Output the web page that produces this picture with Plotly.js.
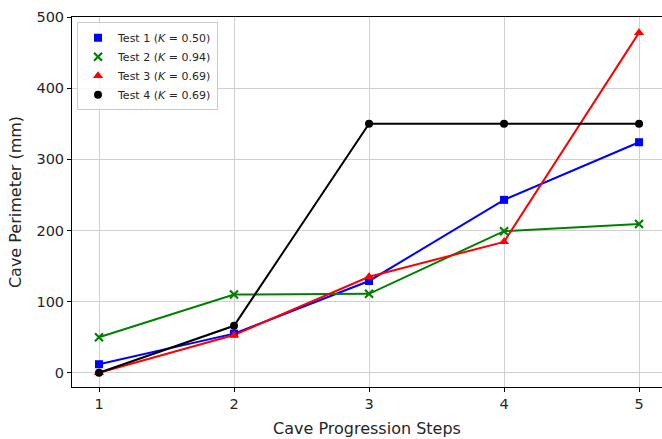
<!DOCTYPE html>
<html>
<head>
<meta charset="utf-8">
<script src="https://cdn.plot.ly/plotly-3.0.1.min.js"></script>
<style>html,body{margin:0;padding:0;background:#fff;}#chart{width:662px;height:439px;}</style>
</head>
<body>
<div id="chart"></div>
<script>
const steps = [1, 2, 3, 4, 5];
const test1 = [12, 55, 129, 243, 324];
const test2 = [50, 110, 111, 199, 209];
const test3 = [0, 53, 135, 184, 478];
const test4 = [0, 66, 350, 350, 350];
const labels = [
  'Test 1 (<i>K</i> = 0.50)',
  'Test 2 (<i>K</i> = 0.94)',
  'Test 3 (<i>K</i> = 0.69)',
  'Test 4 (<i>K</i> = 0.69)'
];
const yTicks = [0, 100, 200, 300, 400, 500];

const series = [test1, test2, test3, test4];
const colors = ['#0000ff', '#008000', '#ff0000', '#000000'];
const symbols = ['square', 'x-thin-open', 'triangle-up', 'circle'];
const sizes = [8, 8, 9, 8];

const traces = [];
series.forEach((ys, i) => {
  traces.push({
    x: steps, y: ys, type: 'scatter', mode: 'lines',
    line: {color: colors[i], width: 2}, showlegend: false, hoverinfo: 'skip'
  });
});
series.forEach((ys, i) => {
  const m = {symbol: symbols[i], size: sizes[i], color: colors[i]};
  if (symbols[i] === 'x-thin-open') m.line = {color: colors[i], width: 2.2};
  else m.line = {width: 0};
  traces.push({
    x: steps, y: ys, type: 'scatter', mode: 'markers',
    marker: m, name: labels[i]
  });
});

const layout = {
  width: 662, height: 439,
  margin: {l: 72, r: 0, t: 17, b: 52},
  paper_bgcolor: '#fff', plot_bgcolor: '#fff',
  font: {family: 'DejaVu Sans', color: '#262626'},
  xaxis: {
    range: [0.8, 5.17], tickvals: steps, ticktext: steps.map(String),
    showgrid: true, gridcolor: '#d0d0d0', gridwidth: 1,
    showline: true, linecolor: '#000', linewidth: 1, mirror: true,
    ticks: 'outside', ticklen: 4, tickcolor: '#000',
    tickfont: {size: 14.5}, zeroline: false,
    title: {text: 'Cave Progression Steps', font: {size: 16}, standoff: 11}
  },
  yaxis: {
    range: [-20, 500], tickvals: yTicks, ticktext: yTicks.map(String),
    showgrid: true, gridcolor: '#d0d0d0', gridwidth: 1,
    showline: true, linecolor: '#000', linewidth: 1, mirror: false,
    ticks: 'outside', ticklen: 4, tickcolor: '#000',
    tickfont: {size: 14.5}, zeroline: false,
    title: {text: 'Cave Perimeter (mm)', font: {size: 16}, standoff: 10}
  },
  legend: {
    x: 0.0085, y: 0.986, xanchor: 'left', yanchor: 'top',
    bgcolor: 'rgba(255,255,255,0.85)', bordercolor: '#cccccc', borderwidth: 1,
    font: {size: 11}, itemwidth: 30
  },
  showlegend: true
};

Plotly.newPlot('chart', traces, layout, {displayModeBar: false, staticPlot: true});
</script>
</body>
</html>
